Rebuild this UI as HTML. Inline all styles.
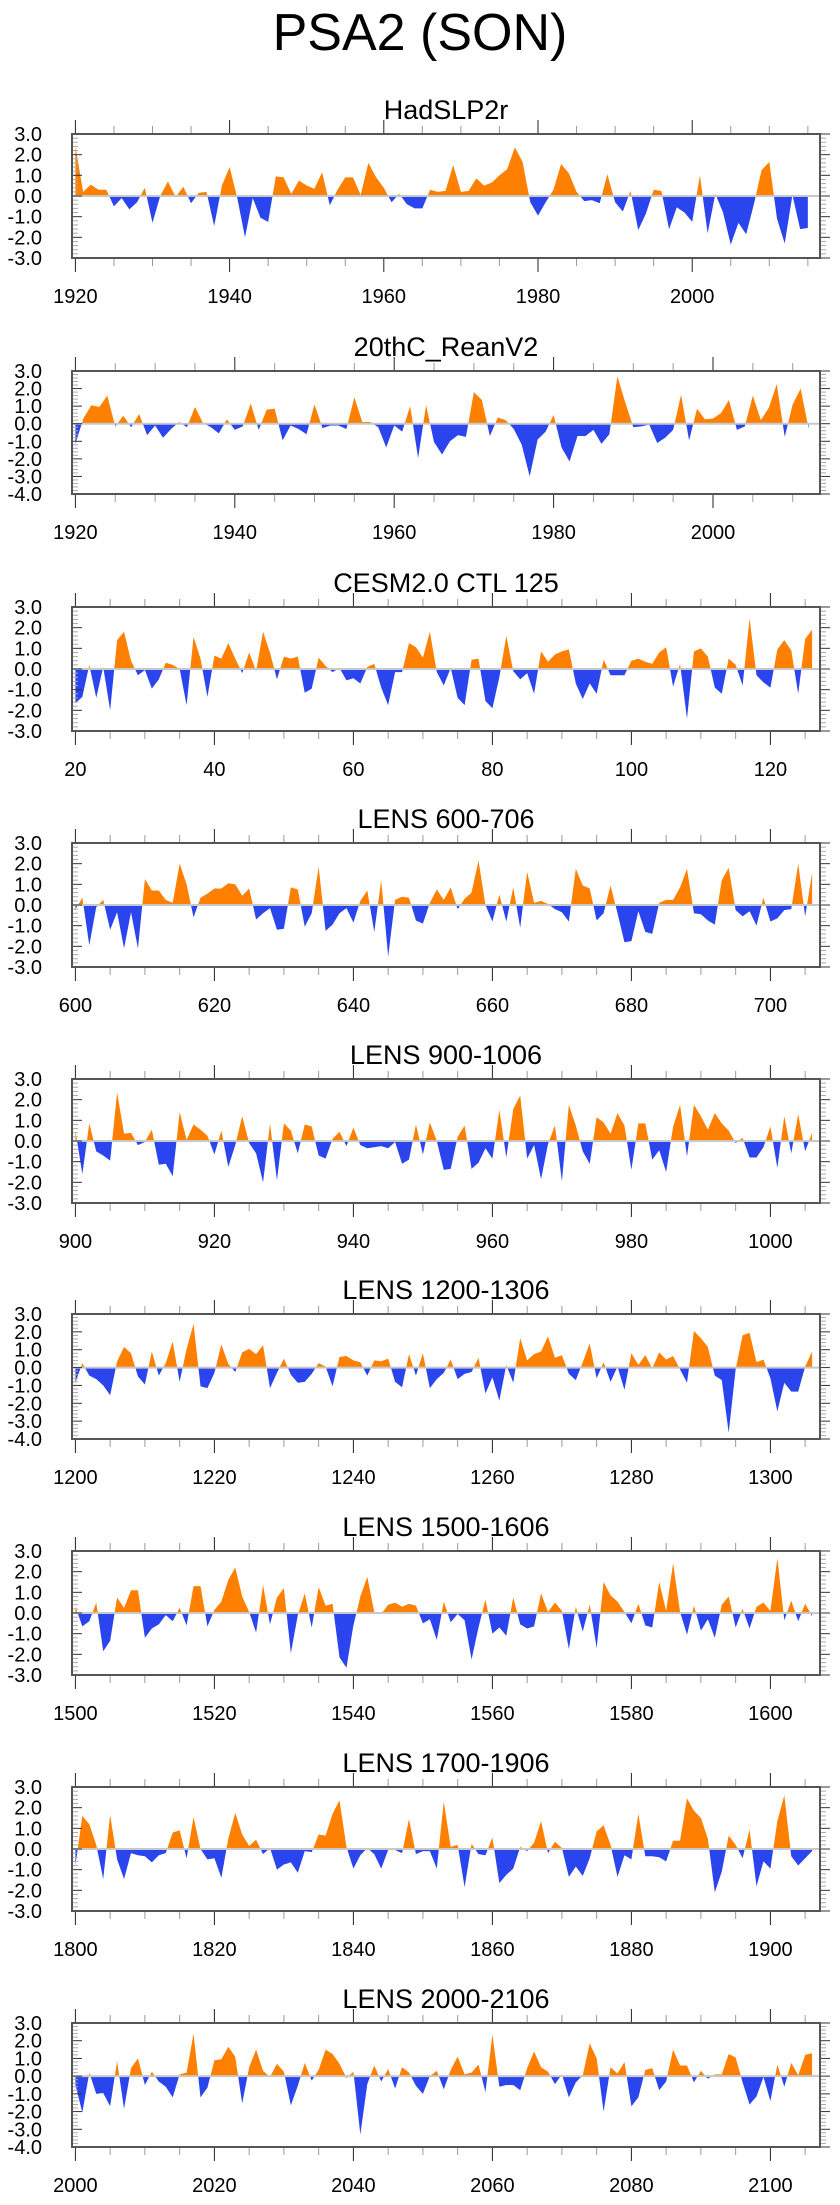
<!DOCTYPE html>
<html><head><meta charset="utf-8">
<style>
html,body{margin:0;padding:0;background:#fff;}
body{width:840px;height:2200px;overflow:hidden;}
svg text{font-family:"Liberation Sans",Arial,sans-serif;fill:#000;}
</style></head>
<body>
<svg id="chart" width="840" height="2200" viewBox="0 0 840 2200" xmlns="http://www.w3.org/2000/svg">
<text x="420" y="50" font-size="52" text-anchor="middle">PSA2 (SON)</text>
</svg>
<script>
// ---- data ----
const titles = ["HadSLP2r","20thC_ReanV2","CESM2.0 CTL 125","LENS 600-706","LENS 900-1006","LENS 1200-1306","LENS 1500-1606","LENS 1700-1906","LENS 2000-2106"];
const startYears = [1920,1920,20,600,900,1200,1500,1800,2000];
const tickLabelsP1 = [1920,1940,1960,1980,2000];
const tickLabelsP2 = [1920,1940,1960,1980,2000];
const tickLabelsP3 = [20,40,60,80,100,120];
const tickLabelsP4 = [600,620,640,660,680,700];
const tickLabelsP5 = [900,920,940,960,980,1000];
const tickLabelsP6 = [1200,1220,1240,1260,1280,1300];
const tickLabelsP7 = [1500,1520,1540,1560,1580,1600];
const tickLabelsP8 = [1800,1820,1840,1860,1880,1900];
const tickLabelsP9 = [2000,2020,2040,2060,2080,2100];
const yMaxes = [3,3,3,3,3,3,3,3,3];
const yMins = [-3,-4,-3,-3,-3,-4,-3,-3,-4];
const seriesP1 = [2.4,0.2,0.55,0.3,0.3,-0.5,-0.1,-0.65,-0.3,0.4,-1.3,0.0,0.7,-0.05,0.45,-0.35,0.15,0.2,-1.45,0.5,1.4,-0.1,-2.0,-0.1,-1.05,-1.25,0.95,0.9,0.1,0.75,0.5,0.35,1.15,-0.45,0.3,0.9,0.9,0.05,1.6,0.9,0.4,-0.3,0.1,-0.4,-0.6,-0.6,0.3,0.2,0.25,1.5,0.2,0.25,0.85,0.5,0.65,1.0,1.3,2.35,1.65,-0.3,-0.95,-0.3,0.3,1.55,1.1,0.2,-0.25,-0.2,-0.35,1.05,-0.3,-0.75,0.25,-1.65,-0.85,0.3,0.25,-1.6,-0.55,-0.8,-1.25,1.0,-1.8,0.1,-0.8,-2.35,-1.3,-1.85,-0.4,1.25,1.65,-1.1,-2.3,0.05,-1.6,-1.55];
const seriesP2 = [-1.15,0.3,1.05,0.95,1.6,-0.15,0.45,-0.2,0.55,-0.65,-0.1,-0.8,-0.3,0.1,-0.2,0.95,0.05,-0.2,-0.55,0.25,-0.35,-0.15,1.15,-0.35,0.8,0.85,-0.95,-0.1,-0.3,-0.6,1.1,-0.25,-0.1,-0.1,-0.3,1.5,0.1,0.1,-0.2,-1.35,-0.1,-0.45,1.0,-1.95,1.05,-1.05,-1.75,-1.0,-0.65,-0.75,1.8,1.35,-0.7,0.35,0.2,-0.3,-1.2,-3.0,-0.9,-0.45,0.5,-1.35,-2.15,-0.7,-0.7,-0.35,-1.15,-0.6,2.7,1.2,-0.2,-0.15,-0.05,-1.1,-0.8,-0.35,1.65,-0.95,0.85,0.25,0.3,0.6,1.35,-0.35,-0.15,1.6,0.2,0.9,2.25,-0.75,1.1,2.0,-0.3];
const seriesP3 = [-1.65,-1.35,0.2,-1.4,0.1,-2.0,1.4,1.8,0.4,-0.3,-0.05,-0.95,-0.5,0.3,0.2,0.0,-1.75,1.55,0.5,-1.35,0.65,0.5,1.25,0.5,-0.2,0.8,-0.1,1.8,0.8,-0.5,0.6,0.5,0.6,-1.15,-0.95,0.55,0.15,-0.15,0.05,-0.55,-0.45,-0.7,0.1,0.25,-0.9,-1.75,-0.15,-0.15,1.25,1.05,0.55,1.8,-0.15,-0.8,0.05,-1.4,-1.75,0.45,0.5,-1.55,-1.9,-0.4,1.6,-0.1,-0.5,-0.2,-1.2,0.85,0.35,0.7,0.85,0.95,-0.7,-1.45,-0.7,-1.2,0.45,-0.3,-0.3,-0.3,0.4,0.5,0.35,0.25,0.8,1.05,-0.85,0.25,-2.4,0.85,1.0,0.6,-0.9,-1.2,0.5,0.2,-0.8,2.45,-0.3,-0.65,-0.9,0.95,1.4,0.9,-1.2,1.45,1.9];
const seriesP4 = [-0.2,0.35,-1.95,-0.1,0.25,-1.2,-0.35,-2.1,-0.35,-2.1,1.25,0.7,0.7,0.25,0.1,2.0,1.0,-0.6,0.35,0.55,0.8,0.8,1.05,1.0,0.45,0.8,-0.7,-0.4,-0.15,-1.2,-1.15,0.85,0.75,-1.05,-0.4,1.85,-1.25,-0.95,-0.4,-0.15,-0.85,0.2,0.7,-1.3,1.2,-2.5,0.25,0.4,0.35,-0.75,-0.9,0.1,0.75,0.25,0.85,-0.2,0.3,0.6,2.15,0.0,-0.8,0.5,-0.8,0.85,-1.1,1.6,0.1,0.2,0.05,-0.2,-0.35,-0.8,1.75,0.95,0.8,-0.75,-0.4,0.95,-0.4,-1.8,-1.75,-0.3,-1.3,-1.4,0.1,0.25,0.25,0.85,1.75,-0.4,-0.45,-0.75,-0.95,1.2,1.8,-0.25,-0.55,-0.3,-1.0,0.35,-0.8,-0.65,-0.25,-0.2,2.0,-0.55,1.55];
const seriesP5 = [0.5,-1.6,0.85,-0.5,-0.7,-0.95,2.35,0.35,0.4,-0.2,-0.05,0.55,-1.15,-1.1,-1.7,1.4,0.05,0.8,0.55,0.25,-0.65,0.5,-1.25,-0.2,1.2,-0.1,-0.6,-2.0,0.85,-1.9,0.85,0.5,-0.6,0.8,0.7,-0.7,-0.85,0.1,0.45,-0.25,0.65,-0.2,-0.35,-0.3,-0.25,-0.35,-0.05,-1.1,-0.9,0.8,-0.65,0.9,0.0,-1.4,-1.35,0.2,0.75,-1.35,-1.05,-0.35,-0.85,1.5,-0.8,1.55,2.2,-0.85,-0.2,-1.85,-0.15,0.75,-1.95,1.75,0.75,-0.5,-1.1,1.15,0.9,0.35,1.35,0.75,-1.4,0.85,0.85,-0.9,-0.45,-1.5,0.7,1.75,-0.75,1.75,1.2,0.55,1.35,0.85,0.5,-0.1,0.15,-0.8,-0.8,-0.3,0.7,-1.3,1.2,-0.6,1.3,-0.5,0.4];
const seriesP6 = [-0.85,0.25,-0.45,-0.65,-1.0,-1.55,0.35,1.15,0.8,-0.5,-0.95,0.9,-0.45,0.25,1.45,-0.8,1.05,2.45,-1.05,-1.15,-0.3,1.3,0.2,-0.25,0.85,1.05,0.75,1.25,-1.15,-0.3,0.5,-0.4,-0.85,-0.8,-0.35,0.25,0.05,-1.05,0.6,0.65,0.4,0.3,-0.45,0.4,0.35,0.5,-0.8,-1.1,0.75,-0.45,0.8,-1.15,-0.65,-0.3,0.45,-0.65,-0.35,-0.25,0.55,-1.45,-0.55,-1.85,0.15,-0.85,1.65,0.4,0.75,0.9,1.75,0.55,0.7,-0.35,-0.7,0.3,1.35,-0.6,0.3,-0.8,0.05,-1.25,0.8,0.15,0.7,-0.05,0.85,0.45,0.65,-0.1,-0.85,2.05,1.65,1.15,-0.45,-0.7,-3.65,-0.1,1.8,1.95,0.3,0.45,-0.6,-2.45,-0.85,-1.35,-1.35,0.05,0.9];
const seriesP7 = [0.3,-0.65,-0.4,0.5,-1.85,-1.35,0.75,0.25,1.1,1.1,-1.2,-0.75,-0.55,-0.1,-0.4,0.25,-0.6,1.3,1.3,-0.65,0.15,0.55,1.6,2.2,0.8,0.05,-0.95,1.35,-0.55,0.75,1.2,-1.95,-0.1,0.95,-0.7,1.25,0.35,0.45,-2.15,-2.65,-0.6,0.8,1.75,0.05,-0.05,0.4,0.5,0.3,0.45,0.35,-0.5,-0.3,-1.3,0.55,-0.45,-0.05,-0.35,-2.25,-0.7,0.65,-1.0,-0.7,-1.1,0.75,-0.55,-0.75,-0.65,0.95,0.05,0.5,0.1,-1.75,0.3,-0.9,0.4,-1.7,1.5,0.85,0.55,0.05,-0.5,0.45,-0.6,-0.7,1.5,0.1,2.4,0.05,-1.05,0.35,-0.85,-0.3,-1.2,0.4,0.8,-0.7,0.2,-0.75,0.3,0.5,0.1,2.65,-0.35,0.6,-0.4,0.45,-0.15];
const seriesP8 = [-0.8,1.6,1.2,0.2,-1.45,1.65,-0.5,-1.45,-0.2,-0.3,-0.35,-0.65,-0.3,-0.2,0.8,0.9,-0.45,1.55,0.0,-0.5,-0.45,-1.4,0.5,1.75,0.7,0.15,0.45,-0.25,0.05,-1.0,-0.75,-0.65,-1.15,-0.1,-0.15,0.7,0.65,1.7,2.35,0.1,-0.95,-0.3,0.05,-0.25,-0.95,-0.05,-0.05,-0.2,1.45,-0.25,-0.1,-0.1,-0.95,2.3,0.1,0.2,-1.85,0.25,-0.25,-0.3,0.55,-1.65,-1.25,-0.95,0.1,-0.1,0.3,1.35,-0.2,0.35,0.05,-1.35,-0.85,-1.3,-0.45,0.85,1.15,0.2,-1.35,-0.3,-0.5,1.7,-0.35,-0.35,-0.4,-0.6,0.4,0.4,2.45,1.85,1.5,0.5,-2.1,-1.1,0.65,0.2,-0.45,0.95,-1.8,-0.6,-0.95,1.35,2.6,-0.35,-0.8,-0.45,-0.1];
const seriesP9 = [-0.5,-2.05,0.2,-1.0,-0.95,-1.7,0.85,-1.85,0.45,1.0,-0.5,0.25,-0.3,-0.6,-1.2,0.1,0.2,2.4,-1.2,-0.65,0.9,0.95,1.65,1.1,-1.55,0.5,1.5,0.3,-0.05,0.7,0.25,-1.65,-0.55,0.75,-0.25,0.35,1.5,1.25,0.7,-0.1,0.25,-3.3,-0.45,0.6,-0.3,0.4,-0.7,0.5,0.2,-0.55,-1.0,0.0,0.3,-0.75,0.35,1.1,0.1,0.2,0.65,-0.9,2.35,-0.6,-0.5,-0.5,-0.8,0.45,1.4,0.5,0.25,-0.45,0.1,-1.2,-0.35,0.05,1.85,1.0,-2.0,0.5,0.15,0.8,-1.7,-1.2,0.35,0.45,-0.8,-0.3,1.5,0.6,0.6,-0.35,0.3,-0.15,0.1,0.1,1.25,1.05,-0.35,-1.6,-1.15,-0.05,-1.4,0.65,-0.6,0.75,0.05,1.2,1.3];

const allSeries = [seriesP1,seriesP2,seriesP3,seriesP4,seriesP5,seriesP6,seriesP7,seriesP8,seriesP9];
const allTicks = [tickLabelsP1,tickLabelsP2,tickLabelsP3,tickLabelsP4,tickLabelsP5,tickLabelsP6,tickLabelsP7,tickLabelsP8,tickLabelsP9];

// ---- layout ----
const boxTops = [134,371,607,843,1079,1314,1551,1787,2023];
const boxBottoms = [258,494,731,967,1203,1439,1675,1911,2147];
const BL = 72, BR = 820;
const pxPerYear = [7.71,7.97,6.95,6.95,6.95,6.95,6.95,6.95,6.95];
const X0 = 75.4;

const NS = "http://www.w3.org/2000/svg";
const svg = document.getElementById('chart');
function mk(tag, attrs, parent){
  const e = document.createElementNS(NS, tag);
  for (const k in attrs) e.setAttribute(k, attrs[k]);
  (parent||svg).appendChild(e);
  return e;
}
const defs = mk('defs', {});

for (let p = 0; p < 9; p++) {
  const top = boxTops[p], bot = boxBottoms[p];
  const ymax = yMaxes[p], ymin = yMins[p];
  const y0 = startYears[p];
  const ppy = pxPerYear[p];
  const xS = yr => X0 + (yr - y0) * ppy;
  const yS = v => top + (ymax - v) / (ymax - ymin) * (bot - top);
  const g = mk('g', {});
  
  

  const t = mk('text', {x: (BL+BR)/2, y: top - 15, 'font-size': 27, 'text-anchor': 'middle'}, g);
  t.textContent = titles[p];
  
  

  // clip paths
  const zy = yS(0);
  const cpA = mk('clipPath', {id: 'ca' + p}, defs);
  mk('rect', {x: BL, y: top, width: BR-BL, height: zy-top}, cpA);
  const cpB = mk('clipPath', {id: 'cb' + p}, defs);
  mk('rect', {x: BL, y: zy, width: BR-BL, height: bot-zy}, cpB);

  const s = allSeries[p];
  let d = 'M' + xS(y0).toFixed(2) + ',' + zy.toFixed(2);
  for (let i = 0; i < s.length; i++) d += 'L' + xS(y0+i).toFixed(2) + ',' + yS(s[i]).toFixed(2);
  d += 'L' + xS(y0+s.length-1).toFixed(2) + ',' + zy.toFixed(2) + 'Z';
  const pos = mk('path', {d: d, fill: '#ff8000', 'clip-path': 'url(#ca' + p + ')'}, g);
  
  
  const neg = mk('path', {d: d, fill: '#2a45ee', 'clip-path': 'url(#cb' + p + ')'}, g);
  
  

  const zl = mk('line', {x1: BL, x2: BR, y1: zy, y2: zy, stroke: '#c8c8c8', 'stroke-width': 2}, g);
  
  

  // y ticks
  for (let v = ymin; v <= ymax + 1e-6; v += 0.2) {
    const vv = Math.round(v*10)/10;
    const yy = yS(vv);
    const major = Math.abs(vv - Math.round(vv)) < 1e-6;
    mk('line', {x1: BL, x2: BL + (major ? 10 : 6), y1: yy, y2: yy, stroke: major ? '#333' : '#aaa', 'stroke-width': 1}, g);
    mk('line', {x1: BR, x2: BR + (major ? 10 : 6), y1: yy, y2: yy, stroke: major ? '#333' : '#aaa', 'stroke-width': 1}, g);
    if (major) {
      const lb = mk('text', {x: 42, y: yy + 7, 'font-size': 20, 'text-anchor': 'end'}, g);
      lb.textContent = vv.toFixed(1);
      
      
    }
  }
  // x ticks
  const ticks = allTicks[p];
  const first = ticks[0];
  const xmaxYear = y0 + (BR - X0) / ppy;
  for (let yr = first; yr <= xmaxYear; yr += 5) {
    const xx = xS(yr);
    const major = (yr - first) % 20 === 0;
    const len = major ? 14 : 8;
    mk('line', {x1: xx, x2: xx, y1: top, y2: top - len, stroke: major ? '#222' : '#999', 'stroke-width': 1}, g);
    mk('line', {x1: xx, x2: xx, y1: bot, y2: bot + len, stroke: major ? '#222' : '#999', 'stroke-width': 1}, g);
  }
  for (let k = 0; k < ticks.length; k++) {
    const lb = mk('text', {x: xS(ticks[k]), y: bot + 45, 'font-size': 20, 'text-anchor': 'middle'}, g);
    lb.textContent = ticks[k];
    
    
  }
  const box = mk('rect', {x: BL, y: top, width: BR-BL, height: bot-top, fill: 'none', stroke: '#555', 'stroke-width': 2}, g);
  
  
}
</script>
</body></html>
